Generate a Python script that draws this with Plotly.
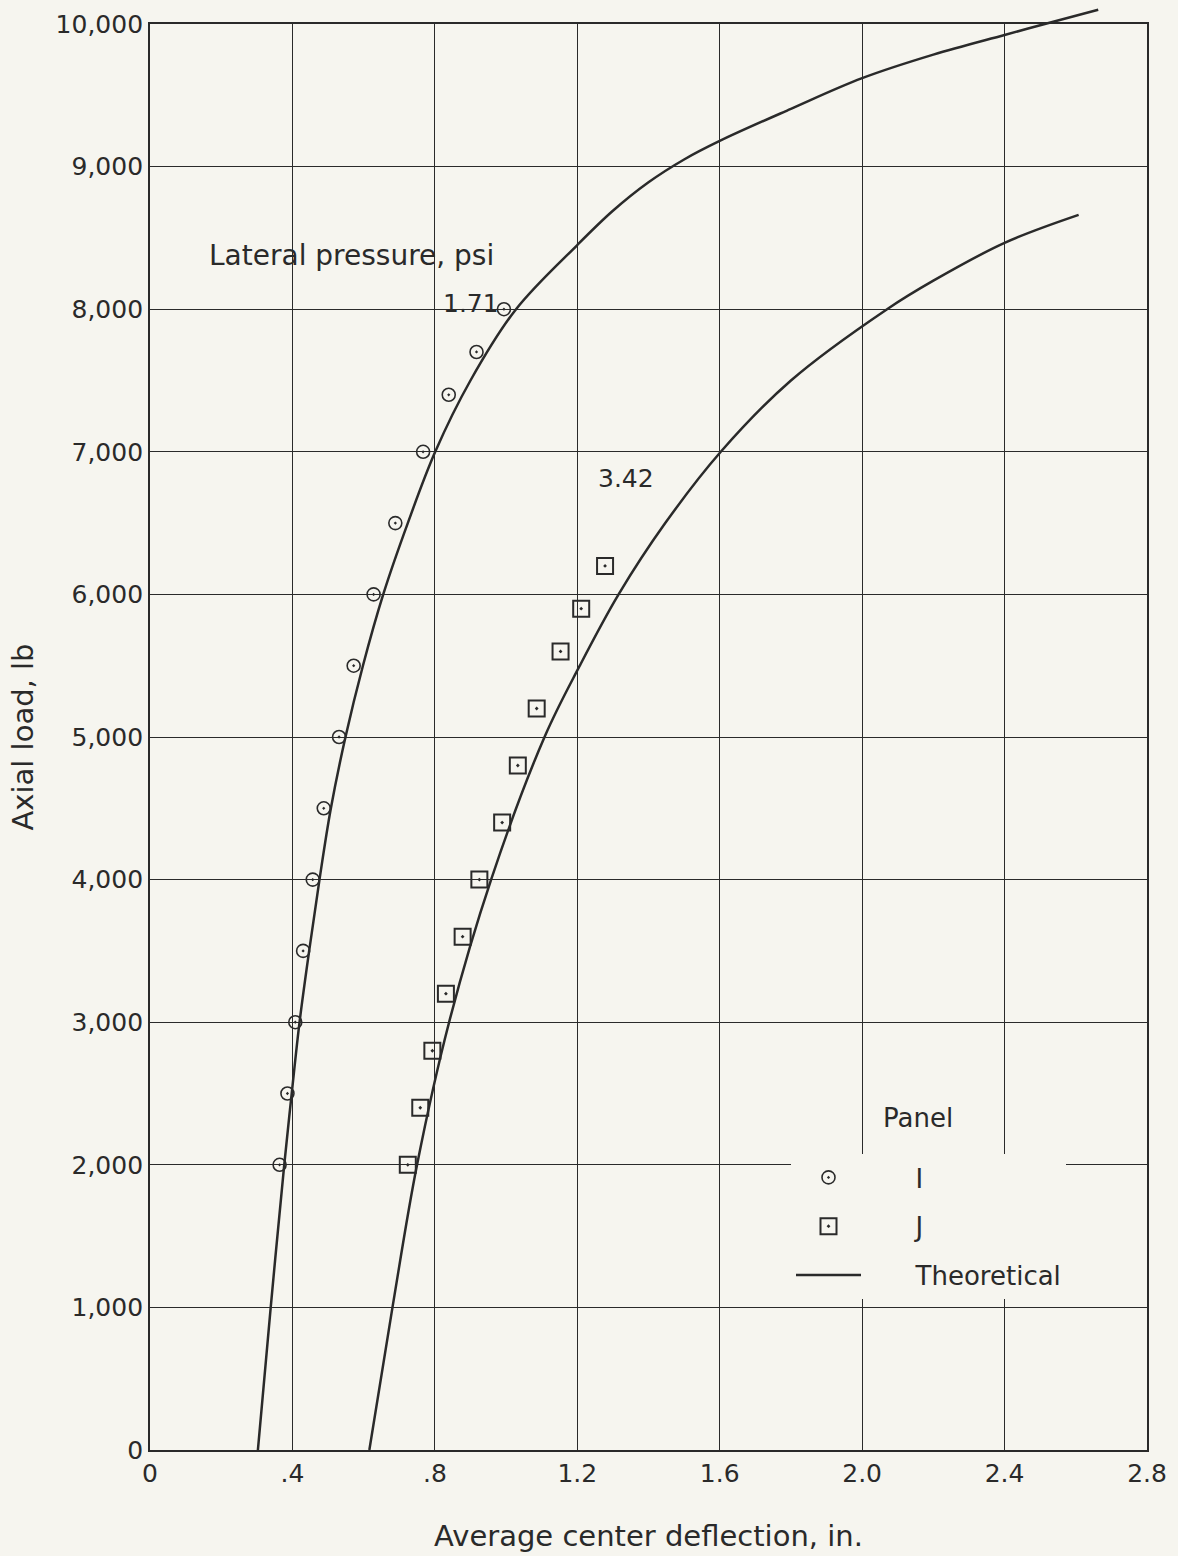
import plotly.graph_objects as go

# ---------------- data ----------------
# Panel I  (lateral pressure 1.71 psi) – test points
deflection_I = [0.364, 0.386, 0.408, 0.430, 0.457, 0.488, 0.531, 0.572, 0.628, 0.689, 0.767, 0.839, 0.917, 0.994]
load_I = [2000, 2500, 3000, 3500, 4000, 4500, 5000, 5500, 6000, 6500, 7000, 7400, 7700, 8000]

# Panel J  (lateral pressure 3.42 psi) – test points
deflection_J = [0.724, 0.759, 0.793, 0.831, 0.878, 0.925, 0.989, 1.033, 1.086, 1.153, 1.211, 1.278]
load_J = [2000, 2400, 2800, 3200, 3600, 4000, 4400, 4800, 5200, 5600, 5900, 6200]

# Theoretical curve, 1.71 psi
theory_171_defl = [0.303, 0.339, 0.377, 0.398, 0.420, 0.447, 0.476, 0.508, 0.549, 0.598, 0.655, 0.724,
                   0.801, 0.900, 1.028, 1.200, 1.300, 1.400, 1.500, 1.600, 1.800, 2.000, 2.200,
                   2.400, 2.513, 2.663]
theory_171_load = [0, 1000, 2000, 2500, 3000, 3500, 4000, 4500, 5000, 5500, 6000, 6500,
                   7000, 7500, 8000, 8450, 8690, 8890, 9050, 9180, 9405, 9620, 9785,
                   9923, 10000, 10100]

# Theoretical curve, 3.42 psi
theory_342_defl = [0.616, 0.681, 0.750, 0.840, 0.958, 1.108, 1.207, 1.316, 1.447, 1.603, 1.800, 2.070,
                   2.200, 2.400, 2.608]
theory_342_load = [0, 1000, 2000, 3000, 4000, 5000, 5500, 6000, 6500, 7000, 7500, 8000,
                   8200, 8465, 8661]

x_tickvals = [0, 0.4, 0.8, 1.2, 1.6, 2.0, 2.4, 2.8]
x_ticktext = ["0", ".4", ".8", "1.2", "1.6", "2.0", "2.4", "2.8"]
y_tickvals = [0, 1000, 2000, 3000, 4000, 5000, 6000, 7000, 8000, 9000, 10000]
y_ticktext = ["0", "1,000", "2,000", "3,000", "4,000", "5,000", "6,000", "7,000", "8,000", "9,000", "10,000"]

curve_labels = ["1.71", "3.42"]
curve_label_x = [0.818, 1.252]
curve_label_y = [8043, 6816]

# ---------------- styling ----------------
W, H = 1178, 1556
ML, MR, MT, MB = 150, 31, 6, 106
PLOT_W = W - ML - MR
PLOT_H = H - MT - MB
X_MAX = 2.8
Y_MAX = 10000
Y_TOP_PX = 24          # pixel row of the 10,000 line
Y_BOT_PX = H - MB      # pixel row of the 0 line
y_dom_top = (Y_BOT_PX - Y_TOP_PX) / PLOT_H
y2_max = Y_MAX / y_dom_top

INK = "#2a2a2a"
BG = "#f6f5ef"
FONT = "DejaVu Sans"
NB = "\u00a0"

fig = go.Figure()

fig.add_trace(go.Scatter(
    x=deflection_I, y=load_I, mode="markers", name=NB * 6 + "I", legendgroup="I",
    marker=dict(symbol="circle-open-dot", size=13, color=INK, line=dict(width=1.6, color=INK)),
))
fig.add_trace(go.Scatter(
    x=deflection_J, y=load_J, mode="markers", name=NB * 6 + "J", legendgroup="J",
    marker=dict(symbol="square-open-dot", size=16, color=INK, line=dict(width=2, color=INK)),
))
fig.add_trace(go.Scatter(
    x=theory_171_defl, y=theory_171_load, mode="lines", name=NB * 6 + "Theoretical", legendgroup="T",
    line=dict(color=INK, width=2.5, shape="spline", smoothing=1.0),
    xaxis="x2", yaxis="y2",
))
fig.add_trace(go.Scatter(
    x=theory_342_defl, y=theory_342_load, mode="lines", name="Theoretical 3.42", legendgroup="T",
    showlegend=False,
    line=dict(color=INK, width=2.5, shape="spline", smoothing=1.0),
    xaxis="x2", yaxis="y2",
))

annotations = [
    dict(x=0.160, y=8380, xref="x", yref="y", text="Lateral pressure, psi", showarrow=False,
         xanchor="left", yanchor="middle", font=dict(size=28, color=INK, family=FONT)),
    dict(x=(918 - ML) / PLOT_W, y=(Y_BOT_PX - 1118) / PLOT_H, xref="paper", yref="paper",
         text="Panel", showarrow=False, xanchor="center", yanchor="middle", bgcolor=BG,
         font=dict(size=26, color=INK, family=FONT)),
]
for lab, lx, ly in zip(curve_labels, curve_label_x, curve_label_y):
    annotations.append(dict(x=lx, y=ly, xref="x", yref="y", text=lab, showarrow=False,
                            xanchor="left", yanchor="middle", font=dict(size=25, color=INK, family=FONT)))

fig.update_layout(
    template="plotly",
    width=W, height=H,
    margin=dict(l=ML, r=MR, t=MT, b=MB, autoexpand=False),
    paper_bgcolor=BG, plot_bgcolor="rgba(0,0,0,0)",
    font=dict(family=FONT, color=INK, size=24),
    showlegend=True,
    legend=dict(
        x=(791 - ML) / PLOT_W, xanchor="left",
        y=(Y_BOT_PX - 1154) / PLOT_H, yanchor="top",
        bgcolor=BG, borderwidth=0,
        font=dict(size=26, color=INK, family=FONT),
        itemwidth=65, tracegroupgap=12,
    ),
    xaxis=dict(
        range=[0, X_MAX], domain=[0, 1], anchor="y", automargin=False,
        tickmode="array", tickvals=x_tickvals, ticktext=x_ticktext,
        tickfont=dict(size=25, color=INK, family=FONT),
        showgrid=True, gridcolor=INK, gridwidth=1.3,
        showline=True, linecolor=INK, linewidth=2.2, mirror=True,
        zeroline=False, ticks="",
        title=dict(text="Average center deflection, in.", standoff=39,
                   font=dict(size=29, color=INK, family=FONT)),
    ),
    yaxis=dict(
        range=[0, Y_MAX], domain=[0, y_dom_top], anchor="x", automargin=False,
        tickmode="array", tickvals=y_tickvals, ticktext=y_ticktext,
        tickfont=dict(size=25, color=INK, family=FONT),
        showgrid=True, gridcolor=INK, gridwidth=1.3,
        showline=True, linecolor=INK, linewidth=1.8, mirror=True,
        zeroline=False, ticks="",
        title=dict(text="Axial load, lb", standoff=13,
                   font=dict(size=29, color=INK, family=FONT)),
    ),
    xaxis2=dict(range=[0, X_MAX], domain=[0, 1], anchor="y2", visible=False,
                showgrid=False, zeroline=False, automargin=False),
    yaxis2=dict(range=[0, y2_max], domain=[0, 1], anchor="x2", visible=False,
                showgrid=False, zeroline=False, automargin=False),
    annotations=annotations,
)

fig.write_html("out.html", config={"displayModeBar": False},
               post_script="document.body.style.margin='0';")
